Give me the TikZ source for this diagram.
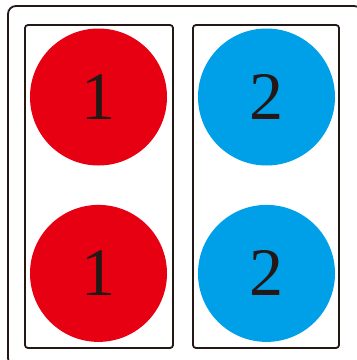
\documentclass[tikz,border=0pt]{standalone}
\usepackage{fontspec}
\setmainfont{Liberation Serif}
\usetikzlibrary{positioning}
\definecolor{discred}{RGB}{230,0,18}
\definecolor{discblue}{RGB}{0,160,233}
\definecolor{ink}{RGB}{35,24,21}

\begin{document}
\begin{tikzpicture}[x=1pt, y=-1pt,
  every node/.style={inner sep=0pt},
  frame/.style={draw=ink, line width=1.8pt, rounded corners=3pt},
  disc/.style={circle, minimum size=137pt, text=ink,
               font=\fontsize{68}{68}\selectfont}]
\useasboundingbox (0,0) rectangle (357,360);
\clip (0,0) rectangle (357,360);
% outer frame, cut by the page edge
\draw[frame, rounded corners=8pt] (8,6) rectangle (362,366);
% the two columns
\node[frame, minimum width=148pt, minimum height=323pt] (colA) at (99,186.5) {};
\node[frame, minimum width=146pt, minimum height=323pt] (colB) at (266,186.5) {};
% discs
\node[disc, fill=discred] (a1) at (98.5,97) {1};
\node[disc, fill=discred, below=39pt of a1] (a2) {1};
\node[disc, fill=discblue] (b1) at (266.5,97) {2};
\node[disc, fill=discblue, below=39pt of b1] (b2) {2};
\end{tikzpicture}
\end{document}
